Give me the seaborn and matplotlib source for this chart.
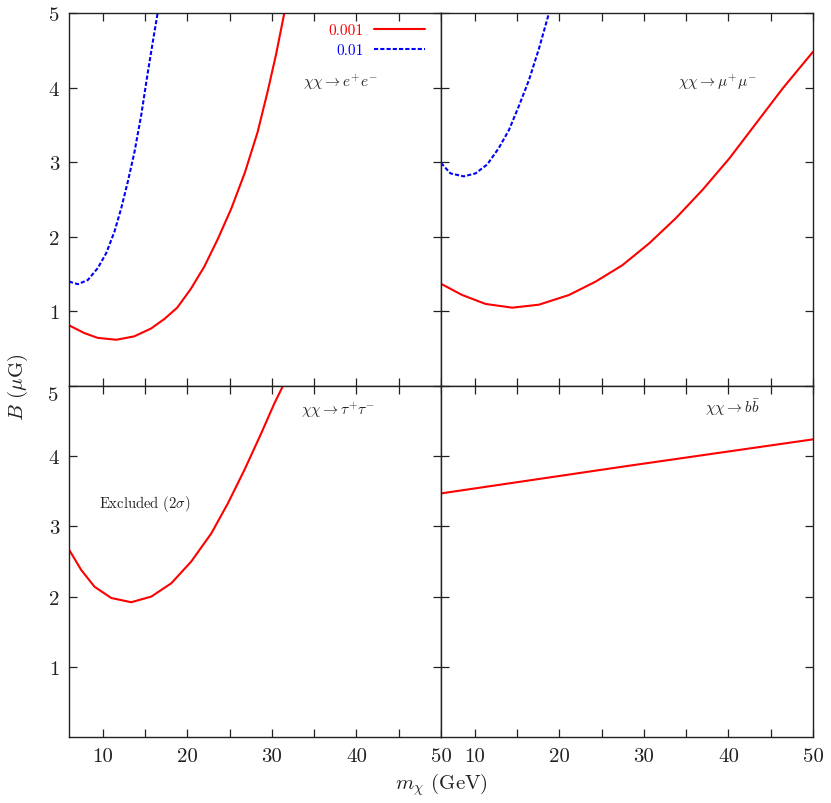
import matplotlib
matplotlib.use("Agg")
import matplotlib.pyplot as plt
import seaborn as sns

sns.set_style("ticks")
plt.rcParams["font.family"] = "serif"
plt.rcParams["font.serif"] = ["cmr10", "DejaVu Serif"]
plt.rcParams["mathtext.fontset"] = "cm"
plt.rcParams["axes.formatter.use_mathtext"] = True
plt.rcParams["axes.unicode_minus"] = False

# ---- data ----
ee_x_001 = [6.06, 7.8, 9.4, 11.6, 13.7, 15.7, 17.3, 18.8, 20.4, 22.0, 23.6, 25.2, 26.8, 28.3, 29.5, 30.5, 31.45, 31.8]
ee_y_001 = [0.81, 0.71, 0.645, 0.62, 0.665, 0.77, 0.90, 1.05, 1.30, 1.60, 1.97, 2.38, 2.86, 3.40, 3.95, 4.45, 4.99, 5.2]
ee_x_01 = [6.0, 7.04, 8.22, 9.4, 10.4, 11.38, 12.17, 12.96, 13.75, 14.54, 15.33, 16.04, 16.44, 16.7]
ee_y_01 = [1.40, 1.365, 1.42, 1.58, 1.78, 2.07, 2.38, 2.74, 3.14, 3.63, 4.21, 4.70, 4.97, 5.15]

mm_x_001 = [6.0, 8.5, 11.27, 14.43, 17.58, 21.14, 24.3, 27.46, 30.6, 33.78, 36.94, 40.1, 43.26, 46.42, 50.0]
mm_y_001 = [1.37, 1.22, 1.10, 1.05, 1.09, 1.22, 1.40, 1.62, 1.91, 2.25, 2.63, 3.05, 3.52, 3.99, 4.48]
mm_x_01 = [6.0, 7.12, 8.7, 10.08, 11.47, 12.84, 14.03, 15.2, 16.4, 17.58, 18.7, 19.0]
mm_y_01 = [2.99, 2.85, 2.81, 2.85, 2.97, 3.19, 3.43, 3.75, 4.10, 4.52, 4.97, 5.1]

tt_x_001 = [6.0, 7.44, 9.02, 11.0, 13.36, 15.73, 18.1, 20.46, 22.83, 24.8, 26.77, 28.75, 30.32, 31.3, 31.7]
tt_y_001 = [2.67, 2.38, 2.14, 1.98, 1.92, 2.0, 2.19, 2.50, 2.90, 3.33, 3.81, 4.33, 4.76, 5.0, 5.12]

bb_x_001 = [6, 28, 50]
bb_y_001 = [3.47, 3.86, 4.24]

x_ticks = [10, 15, 20, 25, 30, 35, 40, 45, 50]
x_ticklabels = ["10", "", "20", "", "30", "", "40", "", "50"]
y_ticks = [1, 2, 3, 4, 5]
y_ticklabels = ["1", "2", "3", "4", "5"]

red = "#ff0000"
blue = "#0000ff"
ink = "#222222"

fig = plt.figure(figsize=(8.31, 8.04), dpi=100)
gs = fig.add_gridspec(2, 2, left=69/831, right=813/831, top=1-14/804, bottom=1-738/804,
                      height_ratios=[373, 351], wspace=0, hspace=0)
axes = [[fig.add_subplot(gs[i, j]) for j in range(2)] for i in range(2)]

def style(ax, show_x, ylabels):
    ax.set_xlim(6, 50)
    ax.set_ylim(0, 5)
    ax.set_xticks(x_ticks)
    ax.set_yticks(y_ticks)
    ax.set_xticklabels(x_ticklabels if show_x else [""] * len(x_ticks))
    ax.set_yticklabels(ylabels)
    ax.tick_params(direction="in", top=True, right=True, length=6, width=0.9,
                   labelsize=15, pad=7, colors=ink)
    for s in ax.spines.values():
        s.set_linewidth(1.0)
        s.set_color(ink)
    ax.set_xlabel("")
    ax.set_ylabel("")

lw = 1.5
dash = (0, (2, 1))
blank = [""] * len(y_ticks)

ax = axes[0][0]
sns.lineplot(x=ee_x_001, y=ee_y_001, ax=ax, color=red, lw=lw, label="0.001")
sns.lineplot(x=ee_x_01, y=ee_y_01, ax=ax, color=blue, lw=lw, linestyle=dash, label="0.01")
ax.legend(loc="upper right", bbox_to_anchor=(0.956, 0.972), borderaxespad=0, frameon=False,
          markerfirst=False, labelcolor="linecolor", fontsize=11, handlelength=3.3,
          handletextpad=0.7, labelspacing=0.4, borderpad=0)
ax.text(33.7, 4.08, r"$\chi\chi \rightarrow e^{+}e^{-}$", fontsize=11, va="center", color=ink)
style(ax, False, y_ticklabels)

ax = axes[0][1]
sns.lineplot(x=mm_x_001, y=mm_y_001, ax=ax, color=red, lw=lw)
sns.lineplot(x=mm_x_01, y=mm_y_01, ax=ax, color=blue, lw=lw, linestyle=dash)
ax.text(34.0, 4.08, r"$\chi\chi \rightarrow \mu^{+}\mu^{-}$", fontsize=11, va="center", color=ink)
style(ax, False, blank)

ax = axes[1][0]
sns.lineplot(x=tt_x_001, y=tt_y_001, ax=ax, color=red, lw=lw)
ax.text(33.4, 4.67, r"$\chi\chi \rightarrow \tau^{+}\tau^{-}$", fontsize=11, va="center", color=ink)
ax.text(9.5, 3.34, r"Excluded $(2\sigma)$", fontsize=10.5, va="center", color=ink)
style(ax, True, y_ticklabels[:-1] + [""])
# top label "5" of the lower panel sits just below the panel edge, as in the reference
fig.text(58/831, 1-396/804, y_ticklabels[-1], ha="right", va="center", fontsize=15, color=ink)

ax = axes[1][1]
sns.lineplot(x=bb_x_001, y=bb_y_001, ax=ax, color=red, lw=lw)
ax.text(37.2, 4.70, r"$\chi\chi \rightarrow b\bar{b}$", fontsize=11, va="center", color=ink)
style(ax, True, blank)

fig.text(441/831, 1-785/804, r"$m_\chi$ (GeV)", ha="center", va="center", fontsize=15, color=ink)
fig.text(18/831, 1-387/804, r"$B$ $(\mu$G$)$", ha="center", va="center", rotation=90, fontsize=15, color=ink)

fig.savefig("out.png", dpi=100)
